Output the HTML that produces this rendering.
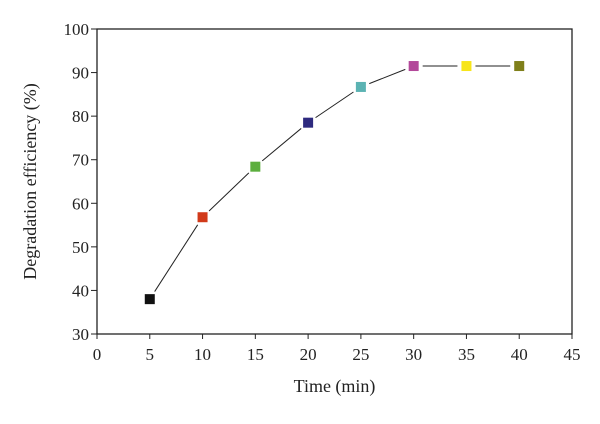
<!DOCTYPE html>
<html><head><meta charset="utf-8"><style>
body{margin:0;background:#fff}
svg text{font-family:"Liberation Serif",serif;fill:#222}
</style></head><body>
<svg width="600" height="419" viewBox="0 0 600 419">
<g id="g"></g>
</svg>
<script>
const xValues=[5,10,15,20,25,30,35,40];
const yValues=[38,56.8,68.4,78.5,86.7,91.5,91.5,91.5];
const colors=['#111111','#d13a1a','#5cae3e','#2e2a7f','#5bb3b3','#b3489a','#f7e51a','#7f7f1a'];
const xTicks=[0,5,10,15,20,25,30,35,40,45];
const yTicks=[30,40,50,60,70,80,90,100];
const L=97,R=572,T=29,B=334;
const sx=v=>L+(v-0)/45*(R-L);
const sy=v=>B-(v-30)/70*(B-T);
const g=document.getElementById('g');
const NS='http://www.w3.org/2000/svg';
function mk(t,a){const e=document.createElementNS(NS,t);for(const k in a)e.setAttribute(k,a[k]);g.appendChild(e);return e;}
const frame=mk('rect',{x:L,y:T,width:R-L,height:B-T,fill:'none',stroke:'#222','stroke-width':1.3});


xTicks.forEach(v=>{
  const t=mk('line',{x1:sx(v),x2:sx(v),y1:B,y2:B+5,stroke:'#222'});
  
  
  const l=mk('text',{x:sx(v),y:B+26,'text-anchor':'middle','font-size':17});
  l.textContent=v;
  
  
});
yTicks.forEach(v=>{
  const t=mk('line',{x1:L-6,x2:L,y1:sy(v),y2:sy(v),stroke:'#222'});
  
  
  const l=mk('text',{x:L-8,y:sy(v)+6,'text-anchor':'end','font-size':17});
  l.textContent=v;
  
  
});
for(let i=0;i<xValues.length-1;i++){
  const x1=sx(xValues[i]),y1=sy(yValues[i]),x2=sx(xValues[i+1]),y2=sy(yValues[i+1]);
  const d=Math.hypot(x2-x1,y2-y1),ux=(x2-x1)/d,uy=(y2-y1)/d,gap=9;
  const s=mk('line',{x1:x1+ux*gap,y1:y1+uy*gap,x2:x2-ux*gap,y2:y2-uy*gap,stroke:'#222','stroke-width':1});
  
  
}
xValues.forEach((v,i)=>{
  const m=mk('rect',{x:sx(v)-5,y:sy(yValues[i])-5,width:10,height:10,fill:colors[i]});
  
  
});
const xt=mk('text',{x:(L+R)/2,y:392,'text-anchor':'middle','font-size':18});
xt.textContent='Time (min)';


const yt=mk('text',{x:0,y:0,'text-anchor':'middle','font-size':18,transform:'translate(36,'+((T+B)/2)+') rotate(-90)'});
yt.textContent='Degradation efficiency (%)';


</script>
</body></html>
